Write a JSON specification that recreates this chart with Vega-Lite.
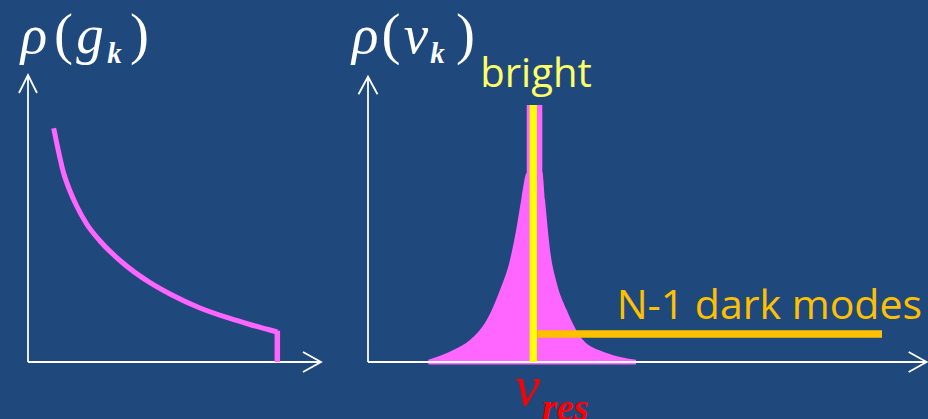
{
  "$schema": "https://vega.github.io/schema/vega-lite/v6.json",
  "background": "#1F497D",
  "padding": 0,
  "spacing": 0,
  "bounds": "flush",
  "config": {"view": {"stroke": null}},
  "hconcat": [
    {
      "width": 344,
      "height": 419,
      "encoding": {
        "x": {"field": "x", "type": "quantitative", "axis": null, "scale": {"domain": [-0.9556, 10.785], "nice": false, "zero": false}},
        "y": {"field": "y", "type": "quantitative", "axis": null, "scale": {"domain": [-1.9861, 12.6132], "nice": false, "zero": false}}
      },
      "layer": [
        {
          "data": {"values": [
            {"x": 0, "y": 0, "x2": 10, "y2": 0},
            {"x": 0, "y": 0, "x2": 0, "y2": 10}
          ]},
          "mark": {"type": "rule", "color": "white", "strokeWidth": 1.8},
          "encoding": {"x2": {"field": "x2"}, "y2": {"field": "y2"}}
        },
        {
          "data": {"values": [{"x": 10, "y": 0}]},
          "mark": {"type": "point", "shape": "M-1.8,-1L0,0L-1.8,1", "size": 400, "filled": false, "stroke": "white", "strokeWidth": 1.8, "opacity": 1}
        },
        {
          "data": {"values": [{"x": 0, "y": 10}]},
          "mark": {"type": "point", "shape": "M-0.9,1.8L0,0L0.9,1.8", "size": 400, "filled": false, "stroke": "white", "strokeWidth": 1.8, "opacity": 1}
        },
        {
          "data": {"values": [
            {"x": 0.877, "y": 8.143},
            {"x": 0.98, "y": 7.631},
            {"x": 1.205, "y": 6.62},
            {"x": 1.433, "y": 5.958},
            {"x": 1.662, "y": 5.436},
            {"x": 2.003, "y": 4.808},
            {"x": 2.457, "y": 4.216},
            {"x": 3.198, "y": 3.484},
            {"x": 4.164, "y": 2.763},
            {"x": 4.846, "y": 2.369},
            {"x": 5.87, "y": 1.882},
            {"x": 6.894, "y": 1.516},
            {"x": 7.577, "y": 1.307},
            {"x": 8.509, "y": 1.045}
          ]},
          "mark": {"type": "line", "color": "#FF66FF", "strokeWidth": 5, "interpolate": "monotone"}
        },
        {
          "data": {"values": [{"x": 8.509, "y": 0, "y2": 1.09}]},
          "mark": {"type": "rule", "color": "#FF66FF", "strokeWidth": 5.5},
          "encoding": {"y2": {"field": "y2"}}
        },
        {
          "data": {"values": [{"x": 0.2, "y": 10.75, "t": "ρ"}, {"x": 2.12, "y": 10.75, "t": "g"}]},
          "mark": {"type": "text", "font": "Liberation Serif", "fontStyle": "italic", "fontSize": 55, "color": "white", "align": "center", "baseline": "alphabetic"},
          "encoding": {"text": {"field": "t"}}
        },
        {
          "data": {"values": [{"x": 1.212, "y": 10.78, "t": "("}, {"x": 3.805, "y": 10.78, "t": ")"}]},
          "mark": {"type": "text", "font": "Liberation Serif", "fontSize": 57, "color": "white", "align": "center", "baseline": "alphabetic"},
          "encoding": {"text": {"field": "t"}}
        },
        {
          "data": {"values": [{"x": 2.952, "y": 10.42, "t": "k"}]},
          "mark": {"type": "text", "font": "Liberation Serif", "fontStyle": "italic", "fontWeight": "bold", "fontSize": 29, "color": "white", "align": "center", "baseline": "alphabetic"},
          "encoding": {"text": {"field": "t"}}
        }
      ]
    },
    {
      "width": 584,
      "height": 419,
      "encoding": {
        "x": {"field": "x", "type": "quantitative", "axis": null, "scale": {"domain": [-0.4309, 10.0539], "nice": false, "zero": false}},
        "y": {"field": "y", "type": "quantitative", "axis": null, "scale": {"domain": [-1.9861, 12.6132], "nice": false, "zero": false}}
      },
      "layer": [
        {
          "data": {"values": [
            {"x": 1.083, "y": 0.08},
            {"x": 1.531, "y": 0.418},
            {"x": 1.831, "y": 0.767},
            {"x": 2.131, "y": 1.463},
            {"x": 2.37, "y": 2.509},
            {"x": 2.549, "y": 3.554},
            {"x": 2.67, "y": 4.714},
            {"x": 2.76, "y": 5.76},
            {"x": 2.85, "y": 6.585},
            {"x": 3.129, "y": 6.62},
            {"x": 3.178, "y": 5.645},
            {"x": 3.268, "y": 3.902},
            {"x": 3.388, "y": 2.753},
            {"x": 3.567, "y": 1.812},
            {"x": 3.86, "y": 0.767},
            {"x": 4.285, "y": 0.314},
            {"x": 4.811, "y": 0.08}
          ]},
          "mark": {"type": "area", "color": "#FF66FF", "interpolate": "monotone"},
          "encoding": {"y2": {"datum": -0.09}}
        },
        {
          "data": {"values": [{"x": 2.85, "x2": 3.129, "y": 0, "y2": 8.955}]},
          "mark": {"type": "rect", "color": "#FF66FF"},
          "encoding": {"x2": {"field": "x2"}, "y2": {"field": "y2"}}
        },
        {
          "data": {"values": [
            {"x": 0, "y": 0, "x2": 10.03, "y2": 0},
            {"x": 0, "y": 0, "x2": 0, "y2": 9.94}
          ]},
          "mark": {"type": "rule", "color": "white", "strokeWidth": 1.8},
          "encoding": {"x2": {"field": "x2"}, "y2": {"field": "y2"}}
        },
        {
          "data": {"values": [{"x": 10.03, "y": 0}]},
          "mark": {"type": "point", "shape": "M-1.8,-1L0,0L-1.8,1", "size": 400, "filled": false, "stroke": "white", "strokeWidth": 1.8, "opacity": 1}
        },
        {
          "data": {"values": [{"x": 0, "y": 9.94}]},
          "mark": {"type": "point", "shape": "M-0.95,1.75L0,0L0.95,1.75", "size": 400, "filled": false, "stroke": "white", "strokeWidth": 1.8, "opacity": 1}
        },
        {
          "data": {"values": [{"x": 2.967, "y": 0, "y2": 8.955}]},
          "mark": {"type": "rule", "color": "#FFFF00", "strokeWidth": 7.3},
          "encoding": {"y2": {"field": "y2"}}
        },
        {
          "data": {"values": [{"x": 3.04, "x2": 9.228, "y": 0.976}]},
          "mark": {"type": "rule", "color": "#FFC000", "strokeWidth": 7.5},
          "encoding": {"x2": {"field": "x2"}}
        },
        {
          "data": {"values": [{"x": -0.05, "y": 10.75, "t": "ρ"}, {"x": 0.86, "y": 10.75, "t": "ν"}]},
          "mark": {"type": "text", "font": "Liberation Serif", "fontStyle": "italic", "fontSize": 55, "color": "white", "align": "center", "baseline": "alphabetic"},
          "encoding": {"text": {"field": "t"}}
        },
        {
          "data": {"values": [{"x": 0.413, "y": 10.78, "t": "("}, {"x": 1.75, "y": 10.78, "t": ")"}]},
          "mark": {"type": "text", "font": "Liberation Serif", "fontSize": 57, "color": "white", "align": "center", "baseline": "alphabetic"},
          "encoding": {"text": {"field": "t"}}
        },
        {
          "data": {"values": [{"x": 1.248, "y": 10.42, "t": "k"}]},
          "mark": {"type": "text", "font": "Liberation Serif", "fontStyle": "italic", "fontWeight": "bold", "fontSize": 29, "color": "white", "align": "center", "baseline": "alphabetic"},
          "encoding": {"text": {"field": "t"}}
        },
        {
          "data": {"values": [{"x": 3.016, "y": 9.571, "t": "bright"}]},
          "mark": {"type": "text", "font": "Open Sans", "fontSize": 40, "color": "#FFFF66", "align": "center", "baseline": "alphabetic"},
          "encoding": {"text": {"field": "t"}}
        },
        {
          "data": {"values": [{"x": 4.465, "y": 1.488, "t": "N-1 dark modes"}]},
          "mark": {"type": "text", "font": "Open Sans", "fontSize": 41, "color": "#FFC000", "align": "left", "baseline": "alphabetic"},
          "encoding": {"text": {"field": "t"}}
        },
        {
          "data": {"values": [{"x": 2.864, "y": -1.498, "t": "ν"}]},
          "mark": {"type": "text", "font": "Liberation Serif", "fontStyle": "italic", "fontSize": 56, "color": "#FF0000", "align": "center", "baseline": "alphabetic"},
          "encoding": {"text": {"field": "t"}}
        },
        {
          "data": {"values": [{"x": 3.124, "y": -2.02, "t": "res"}]},
          "mark": {"type": "text", "font": "Liberation Serif", "fontStyle": "italic", "fontWeight": "bold", "fontSize": 38, "color": "#FF0000", "align": "left", "baseline": "alphabetic"},
          "encoding": {"text": {"field": "t"}}
        }
      ]
    }
  ]
}
